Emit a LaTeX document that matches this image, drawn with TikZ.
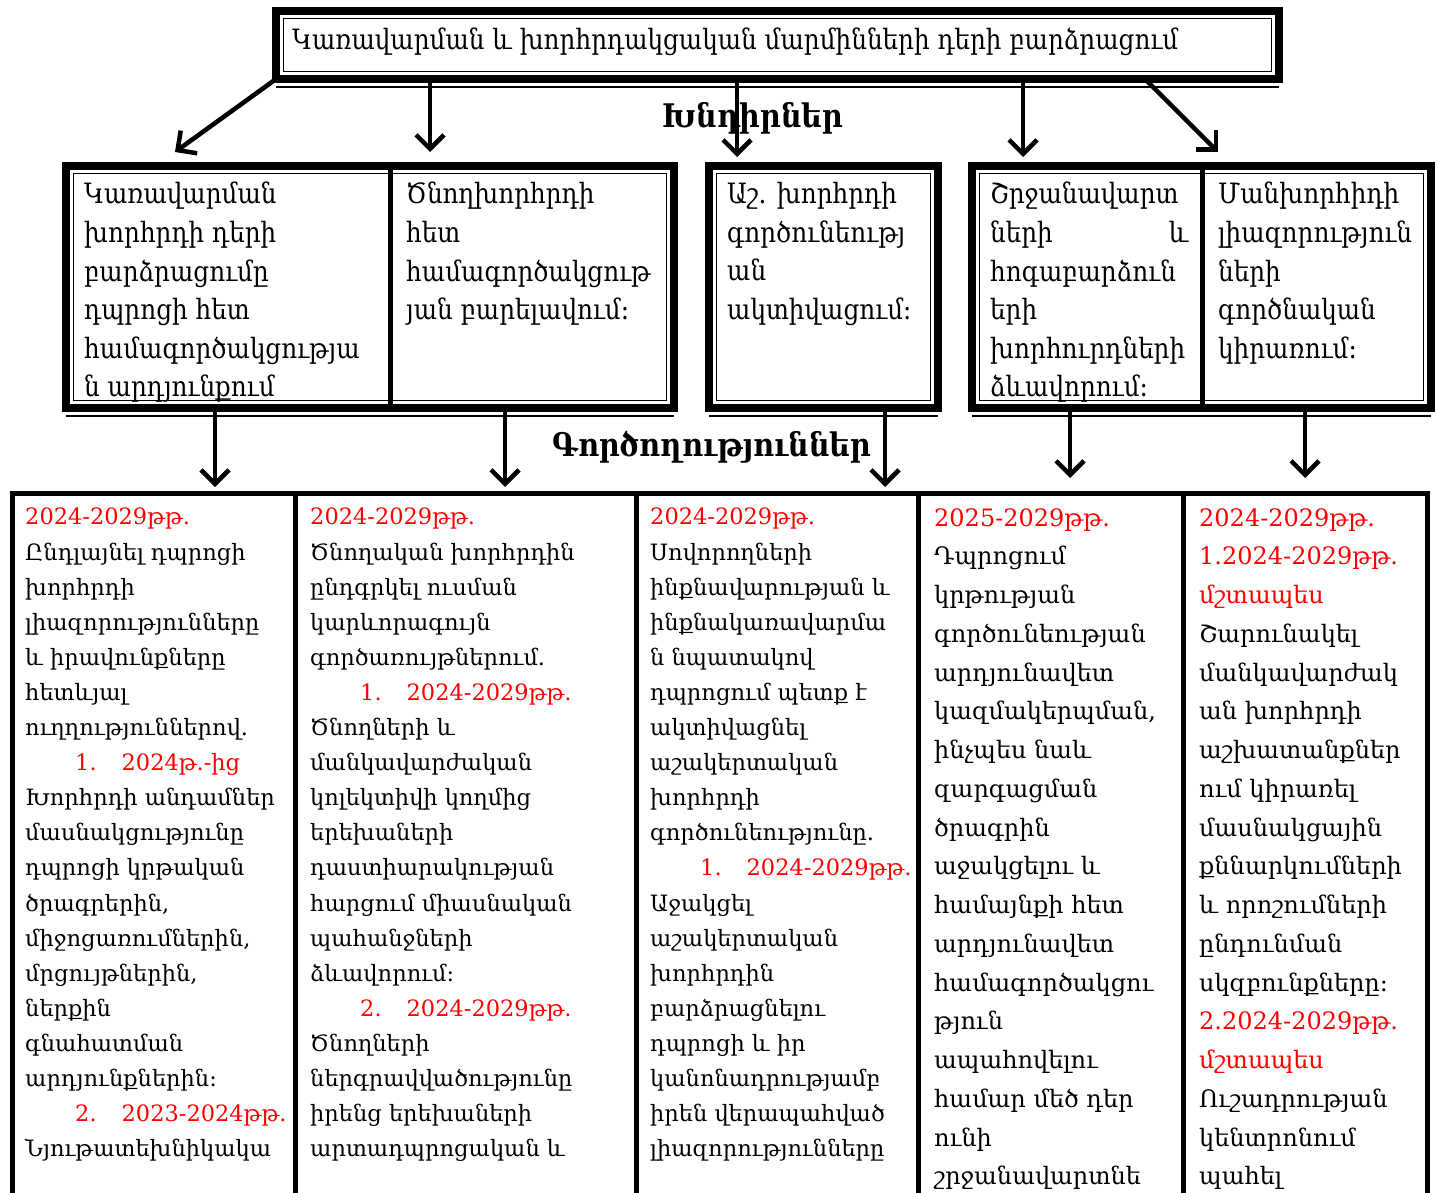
\documentclass[tikz,border=0pt]{standalone}
\usepackage{fontspec}
\setmainfont{DejaVu Serif}
\newfontfamily\narrowfont[FakeStretch=0.88]{DejaVu Serif}
\usetikzlibrary{arrows.meta,positioning}

\definecolor{datered}{RGB}{255,0,0}

\tikzset{
  frame/.style={draw,line width=8pt,inner sep=0pt,outer sep=0pt,anchor=north west},
  cell/.style={draw,line width=5pt,inner sep=0pt,outer sep=0pt,anchor=north west,minimum height=800pt},
  arr/.style={line width=4.5pt,-{Straight Barb[length=14pt,width=28pt]},
    preaction={draw=black!30,transform canvas={xshift=1.5pt,yshift=-1.5pt}}},
  boxtxt/.style={anchor=north west,inner sep=0pt,align=left,
    font=\narrowfont\fontsize{28}{38.6}\selectfont},
  coltxt/.style={anchor=north west,inner sep=0pt,align=left,
    font=\fontsize{22.5}{35.1}\selectfont},
  coltxtb/.style={coltxt,font=\fontsize{24}{38.75}\selectfont},
  heading/.style={font=\narrowfont\bfseries\fontsize{32.5}{32.5}\selectfont,inner sep=0pt}
}
\newcommand{\dt}[1]{\textcolor{datered}{#1}}
% thin inner line of the thick-thin frames
\newcommand{\inframe}[1]{%
  \draw[line width=1.5pt] ([xshift=7.5pt,yshift=-7.5pt]#1.north west) rectangle ([xshift=-7.5pt,yshift=7.5pt]#1.south east);
  \draw[line width=1.5pt] ([yshift=-8pt]#1.south west) -- ([yshift=-8pt]#1.south east);}

\begin{document}
\begin{tikzpicture}[x=1pt,y=-1pt]
\useasboundingbox (0,0) rectangle (1437,1193);
\clip (0,0) rectangle (1437,1193);

% top box
\node[frame,minimum width=1003pt,minimum height=68pt] (top) at (276,11) {};
\inframe{top}
\node[boxtxt,anchor=base west] (toptxt) at (292,50)
  {Կառավարման և խորհրդակցական մարմինների դերի բարձրացում};

\node[heading] (problems) at (753,118) {Խնդիրներ};

% problem boxes
\node[frame,minimum width=608pt,minimum height=242pt] (m1) at (66,166) {};
\inframe{m1}
\draw[line width=5pt] (m1.north -| 390,0) -- (m1.south -| 390,0);
\node[frame,minimum width=229pt,minimum height=242pt] (m2) at (709,166) {};
\inframe{m2}
\node[frame,minimum width=459pt,minimum height=242pt] (m3) at (972,166) {};
\inframe{m3}
\draw[line width=5pt] (m3.north -| 1202,0) -- (m3.south -| 1202,0);

\node[boxtxt] (m1a) at ([xshift=18pt,yshift=-16pt]m1.north west)
  {Կառավարման\\խորհրդի դերի\\բարձրացումը\\դպրոցի հետ\\համագործակցությա\\ն արդյունքում};
\node[boxtxt] (m1b) at (406,182)
  {Ծնողխորհրդի\\հետ\\համագործակցութ\\յան բարելավում։};
\node[boxtxt] (m2a) at ([xshift=18pt,yshift=-16pt]m2.north west)
  {Աշ. խորհրդի\\գործունեությ\\ան\\ակտիվացում։};
\node[boxtxt] (m3a) at ([xshift=18pt,yshift=-16pt]m3.north west)
  {Շրջանավարտ\\\makebox[198pt][l]{ների\hfill և}\\հոգաբարձուն\\երի\\խորհուրդների\\ձևավորում։};
\node[boxtxt] (m3b) at (1218,182)
  {Մանխորհիդի\\լիազորություն\\ների\\գործնական\\կիրառում։};

\node[heading] (actions) at (712,447) {Գործողություններ};

% action table
\node[cell,minimum width=283pt] (c1) at (12,493) {};
\node[cell,minimum width=341pt] (c2) at (295,493) {};
\node[cell,minimum width=282pt] (c3) at (636,493) {};
\node[cell,minimum width=265pt] (c4) at (918,493) {};
\node[cell,minimum width=244pt] (c5) at (1183,493) {};

\node[coltxt] (c1t) at ([xshift=13pt,yshift=-15pt]c1.north west)
  {\dt{2024-2029թթ.}\\Ընդլայնել դպրոցի\\խորհրդի\\լիազորությունները\\և իրավունքները\\հետևյալ\\ուղղություններով.\\
   \hspace*{50pt}\dt{1.\hspace{25pt}2024թ.-ից}\\Խորհրդի անդամներ\\մասնակցությունը\\դպրոցի կրթական\\ծրագրերին,\\միջոցառումներին,\\մրցույթներին,\\ներքին\\գնահատման\\արդյունքներին։\\
   \hspace*{50pt}\dt{2.\hspace{25pt}2023-2024թթ.}\\Նյութատեխնիկակա};
\node[coltxt] (c2t) at ([xshift=15pt,yshift=-15pt]c2.north west)
  {\dt{2024-2029թթ.}\\Ծնողական խորհրդին\\ընդգրկել ուսման\\կարևորագույն\\գործառույթներում.\\
   \hspace*{50pt}\dt{1.\hspace{25pt}2024-2029թթ.}\\Ծնողների և\\մանկավարժական\\կոլեկտիվի կողմից\\երեխաների\\դաստիարակության\\հարցում միասնական\\պահանջների\\ձևավորում։\\
   \hspace*{50pt}\dt{2.\hspace{25pt}2024-2029թթ.}\\Ծնողների\\ներգրավվածությունը\\իրենց երեխաների\\արտադպրոցական և};
\node[coltxt] (c3t) at ([xshift=14pt,yshift=-15pt]c3.north west)
  {\dt{2024-2029թթ.}\\Սովորողների\\ինքնավարության և\\ինքնակառավարմա\\ն նպատակով\\դպրոցում պետք է\\ակտիվացնել\\աշակերտական\\խորհրդի\\գործունեությունը.\\
   \hspace*{50pt}\dt{1.\hspace{25pt}2024-2029թթ.}\\Աջակցել\\աշակերտական\\խորհրդին\\բարձրացնելու\\դպրոցի և իր\\կանոնադրությամբ\\իրեն վերապահված\\լիազորությունները};
\node[coltxtb] (c4t) at ([xshift=16pt,yshift=-15pt]c4.north west)
  {\dt{2025-2029թթ.}\\Դպրոցում\\կրթության\\գործունեության\\արդյունավետ\\կազմակերպման,\\ինչպես նաև\\զարգացման\\ծրագրին\\աջակցելու և\\համայնքի հետ\\արդյունավետ\\համագործակցու\\թյուն\\ապահովելու\\համար մեծ դեր\\ունի\\շրջանավարտնե};
\node[coltxtb] (c5t) at ([xshift=16pt,yshift=-15pt]c5.north west)
  {\dt{2024-2029թթ.}\\\dt{1.2024-2029թթ.}\\\dt{մշտապես}\\Շարունակել\\մանկավարժակ\\ան խորհրդի\\աշխատանքներ\\ում կիրառել\\մասնակցային\\քննարկումների\\և որոշումների\\ընդունման\\սկզբունքները։\\\dt{2.2024-2029թթ.}\\\dt{մշտապես}\\Ուշադրության\\կենտրոնում\\պահել};

% arrow ends
\coordinate (a1) at (175,152);
\coordinate (a2) at (430,152);
\coordinate (a3) at (737,157);
\coordinate (a4) at (1023,157);
\coordinate (a5) at (1218,152);
\coordinate (b1) at (215,487);
\coordinate (b2) at (505,487);
\coordinate (b3) at (885,487);
\coordinate (b4) at (1070,478);
\coordinate (b5) at (1305,478);

\draw[arr] (top.south west) -- (a1);
\draw[arr] (top.south -| a2) -- (a2);
\draw[arr] (top.south -| a3) -- (a3);
\draw[arr] (top.south -| a4) -- (a4);
\draw[arr] ([xshift=-134pt]top.south east) -- (a5);

\draw[arr] (m1.south -| b1) -- (b1);
\draw[arr] (m1.south -| b2) -- (b2);
\draw[arr] (m2.south -| b3) -- (b3);
\draw[arr] (m3.south -| b4) -- (b4);
\draw[arr] (m3.south -| b5) -- (b5);
\end{tikzpicture}
\end{document}
